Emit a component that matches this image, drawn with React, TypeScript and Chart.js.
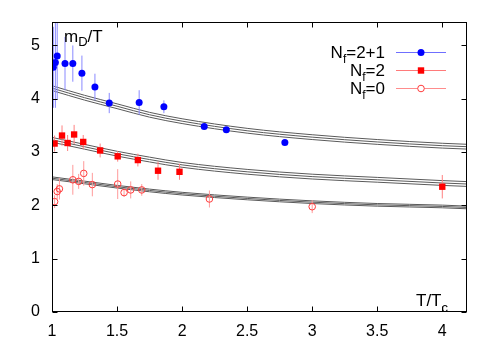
import React, { useEffect, useRef } from "react";
import { Chart, registerables } from "chart.js";
Chart.register(...registerables);

const FONT = "'Liberation Sans', Arial, Helvetica, sans-serif";

// N_f = 2+1 (blue filled circles)
const nf21X = [1.01, 1.026, 1.04, 1.10, 1.16, 1.23, 1.33, 1.44, 1.67, 1.86, 2.17, 2.34, 2.79];
const nf21Y = [4.59, 4.68, 4.80, 4.66, 4.66, 4.48, 4.22, 3.92, 3.93, 3.85, 3.48, 3.42, 3.18];
const nf21Err = [0.76, 0.85, 0.82, 0.5, 0.34, 0.33, 0.25, 0.19, 0.23, 0.12, 0.03, 0.03, 0.03];

// N_f = 2 (red filled squares)
const nf2X = [1.02, 1.077, 1.12, 1.17, 1.24, 1.37, 1.505, 1.66, 1.815, 1.98, 4.0];
const nf2Y = [3.16, 3.31, 3.17, 3.33, 3.19, 3.03, 2.92, 2.85, 2.65, 2.63, 2.35];
const nf2Err = [0.15, 0.19, 0.15, 0.18, 0.13, 0.13, 0.10, 0.12, 0.17, 0.15, 0.22];

// N_f = 0 (red open circles)
const nf0X = [1.02, 1.04, 1.057, 1.16, 1.205, 1.244, 1.31, 1.505, 1.554, 1.605, 1.69, 2.21, 3.0];
const nf0Y = [2.07, 2.26, 2.31, 2.48, 2.45, 2.60, 2.39, 2.40, 2.24, 2.29, 2.29, 2.12, 1.975];
const nf0Err = [0.12, 0.14, 0.2, 0.28, 0.14, 0.23, 0.22, 0.28, 0.08, 0.16, 0.11, 0.16, 0.12];

// perturbative bands (upper / central / lower curves)
const bandX = [1.0, 1.25, 1.5, 1.75, 2.0, 2.5, 3.0, 3.5, 4.0, 4.2];
const topUpper = [4.245, 4.065, 3.905, 3.745, 3.625, 3.445, 3.325, 3.235, 3.165, 3.145];
const topMid = [4.20, 4.02, 3.86, 3.70, 3.58, 3.40, 3.28, 3.19, 3.12, 3.10];
const topLower = [4.155, 3.975, 3.815, 3.655, 3.535, 3.355, 3.235, 3.145, 3.075, 3.055];
const midUpper = [3.275, 3.145, 3.015, 2.905, 2.805, 2.675, 2.585, 2.525, 2.465, 2.445];
const midMid = [3.23, 3.10, 2.97, 2.86, 2.76, 2.63, 2.54, 2.48, 2.42, 2.40];
const midLower = [3.185, 3.055, 2.925, 2.815, 2.715, 2.585, 2.495, 2.435, 2.375, 2.355];
const botUpper = [2.535, 2.455, 2.375, 2.305, 2.245, 2.155, 2.085, 2.035, 2.005, 1.985];
const botMid = [2.51, 2.43, 2.35, 2.28, 2.22, 2.13, 2.06, 2.01, 1.98, 1.96];
const botLower = [2.485, 2.405, 2.325, 2.255, 2.195, 2.105, 2.035, 1.985, 1.955, 1.935];

const xTicks = [1, 1.5, 2, 2.5, 3, 3.5, 4];
const yTicks = [0, 1, 2, 3, 4, 5];
const legendLabels = ["=2+1", "=2", "=0"];

export default function App() {
  const ref = useRef<HTMLCanvasElement>(null);

  useEffect(() => {
    const canvas = ref.current!;
    const pts = (xs: number[], ys: number[]) => xs.map((x, i) => ({ x, y: ys[i] }));
    const errs: Record<number, number[]> = { 0: nf21Err, 1: nf2Err, 2: nf0Err };
    const errColors: Record<number, string> = { 0: "#8a8aff", 1: "#ff8080", 2: "#ff9a9a" };

    const errorBars = {
      id: "errorBars",
      beforeDatasetDraw(chart: any, args: any) {
        const i = args.index;
        const e = errs[i];
        if (!e) return;
        const { ctx, chartArea, scales } = chart;
        const ds = chart.data.datasets[i];
        ctx.save();
        ctx.beginPath();
        ctx.rect(chartArea.left, chartArea.top, chartArea.right - chartArea.left, chartArea.bottom - chartArea.top);
        ctx.clip();
        ctx.strokeStyle = errColors[i];
        ctx.lineWidth = 1;
        ds.data.forEach((p: any, k: number) => {
          const x = scales.x.getPixelForValue(p.x);
          ctx.beginPath();
          ctx.moveTo(x, scales.y.getPixelForValue(p.y + e[k]));
          ctx.lineTo(x, scales.y.getPixelForValue(p.y - e[k]));
          ctx.stroke();
        });
        ctx.restore();
      },
    };

    const drawSub = (ctx: CanvasRenderingContext2D, parts: [string, number, number][], x: number, y: number, align: "left" | "right") => {
      // parts: [text, fontSize, baselineOffset]
      let total = 0;
      parts.forEach(([t, s]) => {
        ctx.font = `${s}px ${FONT}`;
        total += ctx.measureText(t).width;
      });
      let cx = align === "right" ? x - total : x;
      ctx.textAlign = "left";
      ctx.textBaseline = "alphabetic";
      parts.forEach(([t, s, dy]) => {
        ctx.font = `${s}px ${FONT}`;
        ctx.fillText(t, cx, y + dy);
        cx += ctx.measureText(t).width;
      });
    };

    const frame = {
      id: "frame",
      afterDraw(chart: any) {
        const { ctx, chartArea: a, scales } = chart;
        ctx.save();
        ctx.strokeStyle = "#000";
        ctx.lineWidth = 1;
        const L = Math.round(a.left) + 0.5, R = Math.round(a.right) - 0.5;
        const T = Math.round(a.top) + 0.5, B = Math.round(a.bottom) - 0.5;
        ctx.strokeRect(L, T, R - L, B - T);
        const tl = 5;
        ctx.beginPath();
        xTicks.forEach((v) => {
          const x = Math.round(scales.x.getPixelForValue(v)) + 0.5;
          ctx.moveTo(x, B); ctx.lineTo(x, B - tl);
          ctx.moveTo(x, T); ctx.lineTo(x, T + tl);
        });
        yTicks.forEach((v) => {
          const y = Math.round(scales.y.getPixelForValue(v)) + 0.5;
          ctx.moveTo(L, y); ctx.lineTo(L + tl, y);
          ctx.moveTo(R, y); ctx.lineTo(R - tl, y);
        });
        ctx.stroke();

        ctx.fillStyle = "#000";
        // axis labels
        drawSub(ctx, [["m", 17, 0], ["D", 13, 4], ["/T", 17, 0]], a.left + 12, a.top + 20, "left");
        drawSub(ctx, [["T/T", 17, 0], ["c", 13, 6]], a.right - 19, a.bottom - 6, "right");

        // legend
        const rows = [52, 70, 88];
        const lineCols = ["#6f6fff", "#ff7a7a", "#ff8c8c"];
        rows.forEach((ry, i) => {
          ctx.fillStyle = "#000";
          drawSub(ctx, [["N", 17, 0], ["f", 12, 5], [legendLabels[i], 17, 0]], 385, ry + 6, "right");
          ctx.strokeStyle = lineCols[i];
          ctx.lineWidth = 1;
          ctx.beginPath();
          ctx.moveTo(396, ry + 0.5);
          ctx.lineTo(446, ry + 0.5);
          ctx.stroke();
          const mx = 421, my = ry + 0.5;
          if (i === 0) {
            ctx.fillStyle = "#0000ff";
            ctx.beginPath(); ctx.arc(mx, my, 3.5, 0, Math.PI * 2); ctx.fill();
          } else if (i === 1) {
            ctx.fillStyle = "#ff0000";
            ctx.fillRect(mx - 3.2, my - 3.2, 6.4, 6.4);
          } else {
            ctx.fillStyle = "#fff";
            ctx.strokeStyle = "#ff3b3b";
            ctx.beginPath(); ctx.arc(mx, my, 3.3, 0, Math.PI * 2); ctx.fill(); ctx.stroke();
          }
        });
        ctx.restore();
      },
    };

    const band = (ys: number[]) => ({
      type: "line" as const,
      data: pts(bandX, ys),
      borderColor: "#5a5a5a",
      borderWidth: 1,
      pointRadius: 0,
      showLine: true,
      fill: false,
      cubicInterpolationMode: "monotone" as const,
    });

    const chart = new Chart(canvas, {
      type: "scatter",
      data: {
        datasets: [
          {
            data: pts(nf21X, nf21Y),
            pointStyle: "circle",
            pointRadius: 3.5,
            backgroundColor: "#0000ff",
            borderColor: "#0000ff",
            borderWidth: 0,
          },
          {
            data: pts(nf2X, nf2Y),
            pointStyle: "rect",
            pointRadius: 4.5,
            backgroundColor: "#ff0000",
            borderColor: "#ff0000",
            borderWidth: 0,
          },
          {
            data: pts(nf0X, nf0Y),
            pointStyle: "circle",
            pointRadius: 3.3,
            backgroundColor: "rgba(255,255,255,0)",
            borderColor: "#ff3b3b",
            borderWidth: 1,
          },
          band(topUpper), band(topMid), band(topLower),
          band(midUpper), band(midMid), band(midLower),
          band(botUpper), band(botMid), band(botLower),
        ] as any,
      },
      options: {
        responsive: false,
        animation: false,
        devicePixelRatio: 1,
        layout: { padding: { top: 22, right: 31, left: 0, bottom: 0 } },
        plugins: { legend: { display: false }, tooltip: { enabled: false } },
        scales: {
          x: {
            type: "linear",
            min: 1,
            max: 4.19,
            afterFit: (s: any) => { s.height = 37; },
            grid: { display: false, drawTicks: false },
            border: { display: false },
            ticks: {
              stepSize: 0.5,
              includeBounds: false,
              autoSkip: false,
              maxRotation: 0,
              padding: 10,
              color: "#000",
              font: { family: FONT, size: 16 },
              callback: (v: any) => String(v),
            },
          },
          y: {
            type: "linear",
            min: 0,
            max: 5.44,
            afterFit: (s: any) => { s.width = 52; },
            grid: { display: false, drawTicks: false },
            border: { display: false },
            ticks: {
              stepSize: 1,
              includeBounds: false,
              padding: 12,
              color: "#000",
              font: { family: FONT, size: 16 },
              callback: (v: any) => String(v),
            },
          },
        },
      } as any,
      plugins: [errorBars, frame],
    });
    return () => chart.destroy();
  }, []);

  return (
    <div style={{ position: "fixed", left: 0, top: 0, width: 498, height: 349, background: "#fff" }}>
      <canvas ref={ref} width={498} height={349} />
    </div>
  );
}
